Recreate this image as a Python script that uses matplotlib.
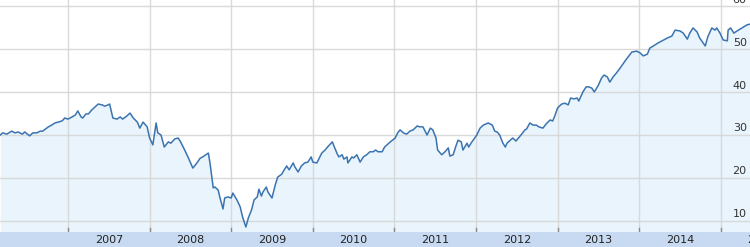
import matplotlib
matplotlib.use("Agg")
import matplotlib.pyplot as plt

# decimal-year dates and price values
dates = [2006.17, 2006.20, 2006.25, 2006.31, 2006.35, 2006.39, 2006.44, 2006.47, 2006.53, 2006.57,
         2006.62, 2006.66, 2006.69, 2006.76, 2006.80, 2006.84, 2006.88, 2006.93, 2006.96, 2007.00,
         2007.05, 2007.09, 2007.12, 2007.16, 2007.18, 2007.22, 2007.25, 2007.29, 2007.33, 2007.37,
         2007.42, 2007.45, 2007.49, 2007.51, 2007.55, 2007.60, 2007.64, 2007.67, 2007.72, 2007.76,
         2007.80, 2007.85, 2007.88, 2007.92, 2007.97, 2008.00, 2008.04, 2008.08, 2008.10, 2008.14,
         2008.18, 2008.23, 2008.26, 2008.31, 2008.35, 2008.38, 2008.43, 2008.47, 2008.53, 2008.58,
         2008.62, 2008.65, 2008.72, 2008.74, 2008.78, 2008.80, 2008.84, 2008.86, 2008.90, 2008.92,
         2008.96, 2009.00, 2009.02, 2009.07, 2009.11, 2009.14, 2009.18, 2009.21, 2009.25, 2009.28,
         2009.32, 2009.34, 2009.37, 2009.39, 2009.43, 2009.45, 2009.50, 2009.54, 2009.57, 2009.62,
         2009.65, 2009.68, 2009.71, 2009.76, 2009.78, 2009.82, 2009.86, 2009.90, 2009.94, 2009.98,
         2010.00, 2010.05, 2010.11, 2010.15, 2010.19, 2010.24, 2010.26, 2010.30, 2010.32, 2010.36,
         2010.38, 2010.42, 2010.43, 2010.48, 2010.50, 2010.54, 2010.58, 2010.62, 2010.66, 2010.70,
         2010.74, 2010.77, 2010.80, 2010.85, 2010.88, 2010.95, 2011.01, 2011.04, 2011.07, 2011.11,
         2011.15, 2011.19, 2011.23, 2011.28, 2011.31, 2011.35, 2011.40, 2011.44, 2011.47, 2011.51,
         2011.53, 2011.58, 2011.62, 2011.66, 2011.68, 2011.72, 2011.75, 2011.78, 2011.82, 2011.84,
         2011.89, 2011.91, 2011.95, 2012.01, 2012.05, 2012.09, 2012.15, 2012.20, 2012.23, 2012.26,
         2012.29, 2012.33, 2012.36, 2012.38, 2012.42, 2012.45, 2012.49, 2012.53, 2012.56, 2012.60,
         2012.62, 2012.66, 2012.70, 2012.74, 2012.77, 2012.82, 2012.87, 2012.91, 2012.94, 2012.97,
         2013.00, 2013.05, 2013.09, 2013.13, 2013.16, 2013.20, 2013.24, 2013.26, 2013.31, 2013.35,
         2013.38, 2013.42, 2013.45, 2013.50, 2013.54, 2013.57, 2013.61, 2013.64, 2013.68, 2013.72,
         2013.76, 2013.83, 2013.89, 2013.91, 2013.97, 2014.01, 2014.05, 2014.10, 2014.13, 2014.19,
         2014.23, 2014.28, 2014.35, 2014.40, 2014.44, 2014.50, 2014.54, 2014.59, 2014.62, 2014.66,
         2014.71, 2014.74, 2014.81, 2014.84, 2014.89, 2014.93, 2014.95, 2014.99, 2015.03, 2015.08,
         2015.09, 2015.12, 2015.16, 2015.20, 2015.26, 2015.32, 2015.36]

values = [30.0, 30.5, 30.2, 30.9, 30.5, 30.7, 30.2, 30.7, 29.8, 30.5,
          30.5, 30.9, 30.9, 31.9, 32.3, 32.8, 33.0, 33.3, 33.95, 33.7,
          34.2, 34.65, 35.6, 34.2, 33.95, 34.9, 34.9, 35.8, 36.5, 37.2,
          37.0, 36.7, 37.0, 37.2, 33.95, 33.7, 34.2, 33.7, 34.4, 35.1,
          33.95, 33.0, 31.6, 33.0, 31.9, 29.3, 27.7, 32.8, 30.5, 30.0,
          27.2, 28.4, 28.1, 29.1, 29.3, 28.4, 26.5, 24.9, 22.3, 23.5,
          24.6, 24.9, 25.8, 23.5, 17.7, 17.9, 17.2, 15.6, 12.8, 15.35,
          15.6, 15.35, 16.5, 14.9, 13.3, 10.9, 8.6, 10.7, 12.6, 14.9,
          15.6, 17.4, 15.8, 16.75, 17.9, 16.75, 15.35, 18.4, 20.2, 20.9,
          21.9, 22.8, 21.9, 23.5, 22.6, 21.4, 22.8, 23.5, 23.7, 24.9,
          23.7, 23.5, 25.8, 26.5, 27.4, 28.4, 27.4, 25.6, 24.9, 25.4,
          24.4, 24.9, 23.5, 24.9, 24.65, 25.4, 23.7, 24.9, 25.4, 26.1,
          26.1, 26.5, 26.1, 26.1, 27.2, 28.4, 29.3, 30.5, 31.2, 30.5,
          30.2, 30.9, 31.2, 32.1, 31.9, 31.9, 30.0, 31.6, 31.2, 29.3,
          26.5, 25.4, 26.1, 27.0, 25.1, 25.4, 27.2, 28.8, 28.4, 26.5,
          28.1, 27.2, 28.4, 30.0, 31.6, 32.3, 32.8, 32.3, 30.9, 30.7,
          30.0, 28.1, 27.2, 28.1, 28.8, 29.3, 28.6, 29.5, 30.2, 31.2,
          31.4, 32.8, 32.3, 32.3, 31.9, 31.6, 32.8, 33.5, 33.25, 34.65,
          36.3, 37.2, 37.4, 37.0, 38.6, 38.4, 38.6, 37.9, 40.0, 41.2,
          41.2, 40.9, 40.0, 41.6, 43.3, 43.95, 43.5, 42.3, 43.5, 44.4,
          45.4, 47.3, 48.8, 49.3, 49.5, 49.1, 48.4, 48.8, 50.2, 50.9,
          51.4, 51.9, 52.6, 53.0, 54.4, 54.2, 53.7, 52.3, 53.7, 54.9,
          53.95, 52.6, 50.7, 52.8, 54.9, 54.4, 54.9, 53.7, 52.1, 51.9,
          54.4, 54.9, 53.7, 54.2, 54.9, 55.6, 55.8]

years = [2007, 2008, 2009, 2010, 2011, 2012, 2013, 2014, 2015]
y_ticks = [10, 20, 30, 40, 50, 60]

X0, X1 = 2006.1667, 2015.358
Y0, Y1 = 7.44, 61.40

fig = plt.figure(figsize=(7.5, 2.47), dpi=100)
ax = fig.add_axes([0, 15 / 247, 1, 232 / 247])
ax.set_xlim(X0, X1)
ax.set_ylim(Y0, Y1)
for s in ax.spines.values():
    s.set_visible(False)
ax.set_xticks([])
ax.set_yticks([])

grid_c = "#d6d6d6"
for yv in y_ticks:
    ax.axhline(yv, color=grid_c, lw=1.0, zorder=3, alpha=0.9)
for yr in years:
    ax.axvline(yr, color=grid_c, lw=1.0, zorder=3, alpha=0.9)
    ax.plot([yr, yr], [Y0, Y0 + 0.9], color="#8a8a8a", lw=1.0, zorder=4, clip_on=False)

ax.fill_between(dates, values, Y0, color="#eaf4fc", zorder=1, lw=0)
ax.plot(dates, values, color="#3a74b0", lw=1.1, zorder=5)

for yv in y_ticks:
    ax.text(X1 - 0.04, yv + 0.35, str(yv), ha="right", va="bottom",
            fontsize=8, color="#333333", zorder=6)

band = fig.add_axes([0, 0, 1, 15 / 247])
band.set_facecolor("#c7daf1")
band.set_xlim(X0, X1)
band.set_ylim(0, 1)
band.set_xticks([])
band.set_yticks([])
for s in band.spines.values():
    s.set_visible(False)
for yr in years:
    band.text(yr + 0.5, 0.45, str(yr), ha="center", va="center",
              fontsize=8, color="#222222")

fig.savefig("out.png", dpi=100)
